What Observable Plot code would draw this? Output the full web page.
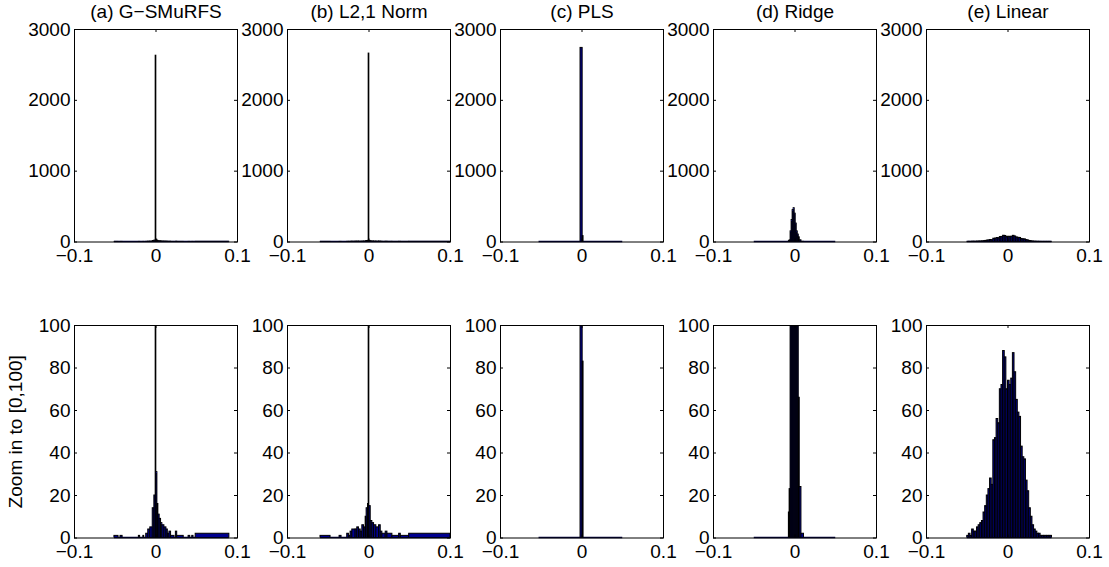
<!DOCTYPE html>
<html>
<head>
<meta charset="utf-8">
<script src="https://cdn.jsdelivr.net/npm/d3@7"></script>
<script src="https://cdn.jsdelivr.net/npm/@observablehq/plot@0.6"></script>
<style>
  html, body { margin: 0; padding: 0; background: #fff; }
  #chart { position: relative; width: 1109px; height: 567px; overflow: hidden; background: #fff; }
  #chart > svg { position: absolute; }
</style>
</head>
<body>
<div id="chart"></div>
<script>
// Histograms of regression weights for five methods (full view and zoomed view).
const methodTitles = ["(a) G\u2212SMuRFS", "(b) L2,1 Norm", "(c) PLS", "(d) Ridge", "(e) Linear"];
const zoomLabel = "Zoom in to [0,100]";

const xTicks = [-0.1, 0, 0.1];
const yTicksFull = [0, 1000, 2000, 3000];
const yTicksZoom = [0, 20, 40, 60, 80, 100];
const yMaxFull = 3000;
const yMaxZoom = 100;

// (a) G-SMuRFS: bin edges and counts
const gsmurfsEdges = [-0.051, -0.046, -0.0435, -0.041, -0.021, -0.0195, -0.0155, -0.0145, -0.012, -0.0095,
  -0.007, -0.004, -0.002, -0.0004, 0.0004, 0.0017, 0.0029, 0.0045, 0.0062, 0.0078, 0.0103, 0.0128,
  0.0145, 0.0165, 0.0185, 0.0227, 0.0244, 0.026, 0.034, 0.04, 0.042, 0.0445, 0.046, 0.0487, 0.090];
const gsmurfsCounts = [1, 0, 1, 0, 1, 0, 1, 0, 2, 4,
  5, 14, 20, 2630, 31, 16, 11, 9, 7, 6, 5,
  4, 2, 3, 1, 0, 3, 1, 0, 1, 0, 1, 0, 2];

// (b) L2,1 Norm
const l21Edges = [-0.0595, -0.0472, -0.0361, -0.0337, -0.0267, -0.0246, -0.0226, -0.0205, -0.0164, -0.0144,
  -0.0123, -0.0102, -0.0082, -0.0061, -0.0041, -0.0029, -0.0012, -0.0004, 0.0004, 0.0021, 0.0041,
  0.0062, 0.009, 0.0123, 0.0144, 0.0164, 0.0205, 0.0226, 0.0287, 0.037, 0.039, 0.0493, 0.1];
const l21Counts = [1, 0, 1, 0, 2, 1, 3, 4, 4,
  5, 4, 3, 6, 5, 10, 14, 16, 2660, 15, 8,
  7, 6, 5, 6, 3, 2, 3, 2, 1, 2, 1, 2];

// (c) PLS
const plsEdges = [-0.0527, -0.0018, 0.0008, 0.0019, 0.050];
const plsCounts = [0, 2740, 83, 0];

// (d) Ridge
const ridgeEdges = [-0.05, -0.0075, -0.0066, -0.0054, -0.00415, -0.0029, -0.00165, -0.0004, 0.00085,
  0.0021, 0.00335, 0.0046, 0.0058, 0.0079, 0.011, 0.05];
const ridgeCounts = [0, 12, 23, 150, 310, 450, 477, 400, 260, 150, 105, 66, 24, 2, 0];

// (e) Linear: uniform bins
const linearBinStart = -0.05;
const linearBinWidth = 0.002;
const linearCounts = [1, 2, 1, 4, 3, 3, 5, 6, 7, 8,
  12, 15, 20, 23, 28, 25, 46, 47, 56, 54,
  70, 72, 88, 85, 70, 74, 72, 75, 87, 78,
  65, 59, 57, 43, 38, 37, 27, 22, 14, 10,
  6, 4, 3, 2, 2, 1, 1, 1, 1, 1, 1, 1];
const linearEdges = d3.range(linearCounts.length + 1).map(k => +(linearBinStart + k * linearBinWidth).toFixed(4));

const hists = [
  {edges: gsmurfsEdges, counts: gsmurfsCounts},
  {edges: l21Edges, counts: l21Counts},
  {edges: plsEdges, counts: plsCounts},
  {edges: ridgeEdges, counts: ridgeCounts},
  {edges: linearEdges, counts: linearCounts}
];

// Layout of the 2 x 5 grid
const FONT = "'Liberation Sans', Arial, Helvetica, sans-serif";
const FONT_SIZE = 19;
const innerW = 163, innerH = 212.5;
const mL = 64, mR = 10, mT = 29, mB = 28;
const frameLefts = [74, 287, 500, 713, 926];
const rowTops = [0, 295.5];
const barFill = "#00008f";
const fmt = d3.format("");

const chart = document.getElementById("chart");

function panel(i, row) {
  const h = hists[i];
  const bins = h.counts
    .map((n, k) => ({x1: h.edges[k], x2: h.edges[k + 1], n}))
    .filter(d => d.n > 0);
  const yMax = row === 0 ? yMaxFull : yMaxZoom;
  const yTicks = row === 0 ? yTicksFull : yTicksZoom;

  const marks = [
    // empty bins still leave a line along the baseline over the data range
    Plot.ruleY([0], {x1: h.edges[0], x2: h.edges[h.edges.length - 1], stroke: "#000040", strokeWidth: 1.5, dy: -0.5}),
    Plot.rect(bins, {x1: "x1", x2: "x2", y1: 0, y2: "n", fill: barFill, stroke: "black", strokeWidth: 1, clip: true}),
    Plot.frame({stroke: "black", strokeWidth: 1}),
    // inward tick marks on all four sides
    Plot.ruleX(xTicks, {insetTop: innerH - 3, stroke: "black"}),
    Plot.ruleX(xTicks, {insetBottom: innerH - 3, stroke: "black"}),
    Plot.ruleY(yTicks, {insetRight: innerW - 3, stroke: "black"}),
    Plot.ruleY(yTicks, {insetLeft: innerW - 3, stroke: "black"}),
    Plot.axisX(xTicks, {tickSize: 0, tickPadding: 6, tickFormat: fmt, label: null}),
    Plot.axisY(yTicks, {tickSize: 0, tickPadding: 4, tickFormat: fmt, label: null})
  ];
  if (row === 0) {
    marks.push(Plot.text([methodTitles[i]], {frameAnchor: "top", lineAnchor: "bottom", dy: -11.5, fill: "black"}));
  }
  if (row === 1 && i === 0) {
    marks.push(Plot.text([zoomLabel], {frameAnchor: "left", rotate: -90, dx: -59, textAnchor: "middle", fill: "black"}));
  }

  const svg = Plot.plot({
    width: mL + innerW + mR,
    height: mT + innerH + mB,
    marginLeft: mL, marginRight: mR, marginTop: mT, marginBottom: mB,
    x: {domain: [-0.1, 0.1], label: null},
    y: {domain: [0, yMax], label: null},
    style: {
      background: "transparent",
      overflow: "visible",
      fontFamily: FONT,
      fontSize: FONT_SIZE + "px",
      color: "black",
      maxWidth: "none"
    },
    marks
  });
  svg.style.left = (frameLefts[i] - mL) + "px";
  svg.style.top = rowTops[row] + "px";
  chart.appendChild(svg);
}

for (let row = 0; row < 2; row++) {
  for (let i = 0; i < 5; i++) panel(i, row);
}
</script>
</body>
</html>
